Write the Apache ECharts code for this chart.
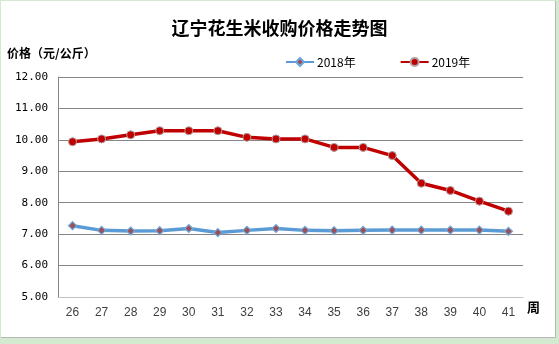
<!DOCTYPE html>
<html>
<head>
<meta charset="utf-8">
<script src="https://cdn.jsdelivr.net/npm/echarts@6/dist/echarts.min.js"></script>
<style>
  html, body { margin: 0; padding: 0; background: #d3ead0; }
  #chart { width: 559px; height: 344px; }
</style>
</head>
<body>
<div id="chart"></div>
<script>
// Weeks of the year
const weeks = ['26','27','28','29','30','31','32','33','34','35','36','37','38','39','40','41'];
// Peanut kernel purchase prices, yuan per kg
const price2018 = [7.27, 7.12, 7.10, 7.11, 7.18, 7.05, 7.12, 7.18, 7.12, 7.11, 7.12, 7.13, 7.13, 7.13, 7.13, 7.09];
const price2019 = [9.94, 10.03, 10.16, 10.29, 10.29, 10.29, 10.08, 10.03, 10.03, 9.76, 9.76, 9.50, 8.62, 8.39, 8.05, 7.73];
const seriesNames = ['2018年', '2019年'];

const cjk = '"Noto Sans CJK SC", "Noto Sans", sans-serif';

const chart = echarts.init(document.getElementById('chart'), null, { renderer: 'canvas' });
chart.setOption({
  backgroundColor: '#d3ead0',
  animation: false,
  graphic: [
    { type: 'rect', z: -10, shape: { x: 1, y: 1, width: 554, height: 336 },
      style: { fill: '#ffffff', stroke: null } },
    { type: 'polyline', z: -9, shape: { points: [[555.5, 1], [555.5, 337.5], [1, 337.5]] },
      style: { stroke: '#b8b8b8', lineWidth: 1, fill: null } },
    { type: 'text', left: 7, top: 47,
      style: { text: '价格（元/公斤）', font: 'bold 12px ' + cjk, fill: '#000' } },
    { type: 'text', left: 527, top: 301,
      style: { text: '周', font: 'bold 13px ' + cjk, fill: '#000' } }
  ],
  title: {
    text: '辽宁花生米收购价格走势图',
    left: 'center',
    top: 14,
    textStyle: { fontFamily: cjk, fontSize: 18, fontWeight: 'bold', color: '#000' }
  },
  legend: {
    left: 280,
    top: 51,
    itemWidth: 28,
    itemHeight: 10,
    itemGap: 44,
    textStyle: { fontFamily: cjk, fontSize: 12, color: '#000', padding: [0, 0, 0, -2] },
    data: seriesNames
  },
  grid: { left: 58, right: 36, top: 77, bottom: 47 },
  xAxis: {
    type: 'category',
    data: weeks,
    boundaryGap: true,
    axisLine: { lineStyle: { color: '#c0c0c0', width: 1 } },
    axisTick: { show: false },
    axisLabel: { margin: 10, fontSize: 12, color: '#404040', fontFamily: 'Liberation Sans, Arial, sans-serif' }
  },
  yAxis: {
    type: 'value',
    min: 5,
    max: 12,
    interval: 1,
    axisLine: { show: true, lineStyle: { color: '#868686', width: 1 } },
    axisTick: { show: false },
    splitLine: { lineStyle: { color: '#868686', width: 1 } },
    axisLabel: {
      margin: 10,
      fontSize: 11,
      color: '#000',
      fontFamily: 'DejaVu Sans Mono, monospace',
      formatter: v => v.toFixed(2)
    }
  },
  series: [
    {
      name: seriesNames[0],
      type: 'line',
      data: price2018,
      symbol: 'diamond',
      symbolSize: 8,
      lineStyle: { color: '#5b9bd5', width: 3.5 },
      itemStyle: { color: '#9c4f55', borderColor: '#6fa8dc', borderWidth: 1.2 }
    },
    {
      name: seriesNames[1],
      type: 'line',
      data: price2019,
      symbol: 'circle',
      symbolSize: 8,
      lineStyle: { color: '#c00000', width: 3.5 },
      itemStyle: { color: '#c00000', borderColor: '#b0a0a0', borderWidth: 1 }
    }
  ]
});
</script>
</body>
</html>
